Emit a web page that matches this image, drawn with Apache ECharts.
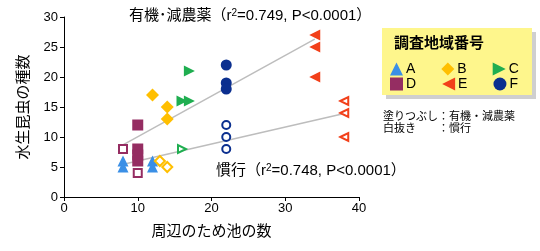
<!DOCTYPE html>
<html>
<head>
<meta charset="utf-8">
<script src="https://cdn.jsdelivr.net/npm/echarts@6/dist/echarts.min.js"></script>
<style>
  html, body { margin: 0; padding: 0; background: #fff; }
  #chart { width: 540px; height: 251px; }
</style>
</head>
<body>
<div id="chart"></div>
<script>
// 地域ごとのデータ (x: 周辺のため池の数, y: 水生昆虫の種数)
var regions = ['A', 'B', 'C', 'D', 'E', 'F'];
// 塗りつぶし：有機・減農薬
var orgA = [[8, 6], [8, 5], [12, 6], [12, 5]];
var orgB = [[12, 17], [14, 15], [14, 13]];
var orgC = [[17, 21], [16, 16], [17, 16]];
var orgD = [[10, 12], [10, 8], [10, 7], [10, 6]];
var orgE = [[34, 27], [34, 25], [34, 20]];
var orgF = [[22, 22], [22, 19], [22, 18]];
// 白抜き：慣行
var convA = [];
var convB = [[13, 6], [14, 5]];
var convC = [[16, 8]];
var convD = [[8, 8], [10, 4]];
var convE = [[38, 16], [38, 14], [38, 10]];
var convF = [[22, 12], [22, 10], [22, 8]];
// 回帰直線
var orgLine = [[8, 8.7], [34, 26.3]];
var convLine = [[8.5, 5.6], [38, 13.9]];
var xTicks = [0, 10, 20, 30, 40];
var yTicks = [0, 5, 10, 15, 20, 25, 30];

var colors = ['#3a8fe6', '#ffbf00', '#1fae50', '#952d62', '#f2401a', '#0b2f8f'];
var symbols = ['triangle', 'diamond', 'triangle', 'rect', 'triangle', 'circle'];
var rotates = [0, 0, -90, 0, 90, 0];
var sizes = [11, 13, 11, 11, 11, 11];
// 凡例用アイコン（左右向き三角）
var legendIcons = ['triangle', 'diamond', 'path://M0,0L10,5L0,10Z', 'rect', 'path://M10,0L0,5L10,10Z', 'circle'];
var orgData = [orgA, orgB, orgC, orgD, orgE, orgF];
var convData = [convA, convB, convC, convD, convE, convF];

var font = 'Liberation Sans, Arial, Noto Sans CJK JP';

var series = [
  {
    type: 'line', data: orgLine, symbol: 'none', z: 1, silent: true,
    lineStyle: { color: '#bdbdbd', width: 1.5 }
  },
  {
    type: 'line', data: convLine, symbol: 'none', z: 1, silent: true,
    lineStyle: { color: '#bdbdbd', width: 1.5 }
  }
];
regions.forEach(function (r, i) {
  series.push({
    name: r, type: 'scatter', data: orgData[i], z: 3,
    symbol: symbols[i], symbolRotate: rotates[i], symbolSize: sizes[i],
    itemStyle: { color: colors[i], opacity: 1 }
  });
  series.push({
    name: r + '慣行', type: 'scatter', data: convData[i], z: 3,
    symbol: symbols[i], symbolRotate: rotates[i], symbolSize: sizes[i] - 3,
    itemStyle: { color: '#fff', borderColor: colors[i], borderWidth: 2, opacity: 1 }
  });
});

function legendData(names) {
  return names.map(function (n) {
    return { name: n, icon: legendIcons[regions.indexOf(n)] };
  });
}

var legendCommon = {
  orient: 'horizontal', itemWidth: 13, itemHeight: 13, itemGap: 26,
  textStyle: { fontSize: 14, color: '#000', fontFamily: font, padding: [0, 0, 0, -2] },
  selectedMode: false, padding: 0
};

var richTitle = {
  a: { fontSize: 15, color: '#000', fontWeight: 'normal', fontFamily: font },
  s: { fontSize: 10, color: '#000', fontWeight: 'normal', fontFamily: font, verticalAlign: 'top', padding: [0, 0, 6, 0] }
};

var myChart = echarts.init(document.getElementById('chart'));
var option = {
  animation: false,
  textStyle: { fontFamily: font },
  grid: { left: 64, right: 181, top: 17, bottom: 54 },
  title: [
    {
      left: 129, top: 8, padding: 0,
      text: '{a|有機･減農薬（r}{s|2}{a|=0.749, P<0.0001）}',
      textStyle: { rich: richTitle }
    },
    {
      left: 216, top: 163, padding: 0,
      text: '{a|慣行（r}{s|2}{a|=0.748, P<0.0001）}',
      textStyle: { rich: richTitle }
    }
  ],
  graphic: [
    { type: 'rect', shape: { x: 386, y: 32, width: 150, height: 67 }, style: { fill: '#cfcfcf' }, z: 0 },
    { type: 'rect', shape: { x: 382, y: 28, width: 150, height: 67 }, style: { fill: '#fef68c' }, z: 1 },
    {
      type: 'text', left: 394, top: 35, z: 2,
      style: { text: '調査地域番号', fontSize: 15, fontWeight: 'bold', fill: '#000', fontFamily: 'Noto Sans CJK JP' }
    },
    {
      type: 'text', left: 383, top: 110, z: 2,
      style: { text: '塗りつぶし：有機・減農薬\n白抜き　　：慣行', fontSize: 11, lineHeight: 12, fill: '#000', fontFamily: 'Noto Sans CJK JP' }
    }
  ],
  legend: [
    Object.assign({ left: 390, top: 62, data: legendData(['A', 'B', 'C']), z: 5 }, legendCommon),
    Object.assign({ left: 390, top: 77, data: legendData(['D', 'E', 'F']), z: 5 }, legendCommon)
  ],
  xAxis: {
    type: 'value', min: 0, max: 40, interval: 10,
    name: '周辺のため池の数', nameLocation: 'middle', nameGap: 26,
    nameTextStyle: { fontSize: 15, color: '#000', fontFamily: 'Noto Sans CJK JP' },
    axisLine: { show: true, lineStyle: { color: '#000', width: 1 } },
    axisTick: { show: true, length: 4, lineStyle: { color: '#000' } },
    axisLabel: { fontSize: 13, color: '#000', margin: 5 },
    splitLine: { show: false }
  },
  yAxis: {
    type: 'value', min: 0, max: 30, interval: 5,
    name: '水生昆虫の種数', nameLocation: 'middle', nameGap: 34,
    nameTextStyle: { fontSize: 15, color: '#000', fontFamily: 'Noto Sans CJK JP' },
    axisLine: { show: true, lineStyle: { color: '#000', width: 1 } },
    axisTick: { show: true, length: 4, lineStyle: { color: '#000' } },
    axisLabel: { fontSize: 13, color: '#000', margin: 6 },
    splitLine: { show: false }
  },
  series: series
};
myChart.setOption(option);
window.addEventListener('resize', function () {
  myChart.resize();
});
</script>
</body>
</html>
